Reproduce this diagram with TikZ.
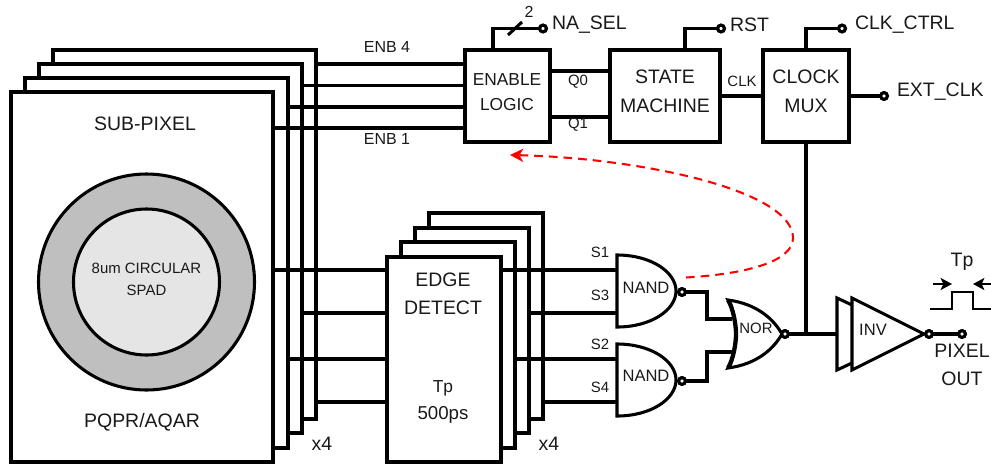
\documentclass[tikz,border=0pt]{standalone}
\usepackage{fontspec}
\setmainfont{Liberation Sans}
\usetikzlibrary{arrows.meta}
\tikzset{
  x=0.75pt,y=-0.75pt,
  boxs/.style={draw=black,fill=white,line width=2.3pt,rectangle,inner sep=0pt,outer sep=0pt},
  wire/.style={draw=black,line width=2.3pt,line cap=butt,line join=miter},
  pinc/.style={circle,draw=black,fill=white,line width=2.3pt,inner sep=0pt,outer sep=0pt,minimum size=5pt},
  lab/.style={inner sep=0pt,outer sep=0pt,text=black!90,font=\fontsize{14.6pt}{17pt}\selectfont},
  labm/.style={lab,font=\fontsize{13pt}{15pt}\selectfont},
  labs/.style={lab,font=\fontsize{11.2pt}{13pt}\selectfont},
  labn/.style={lab,font=\fontsize{12.4pt}{14pt}\selectfont},
  thinl/.style={draw=black,line width=1.1pt},
  arr/.style={draw=black,line width=1.6pt,-{Stealth[length=8.5pt,width=9pt,inset=2pt]}},
  redc/.style={draw=red,line width=1.55pt,dash pattern=on 6.5pt off 4.5pt,-{Stealth[length=10pt,width=10pt,inset=3pt]}},
}
\newcommand{\bx}[5]{\node[boxs,minimum width={(#4-#2)*0.75pt},minimum height={(#5-#3)*0.75pt}] (#1) at ({(#2+#4)/2},{(#3+#5)/2}) {};}
\begin{document}
\begin{tikzpicture}
\useasboundingbox (0,0) rectangle (991,464);
% sub-pixel stack
\bx{subd}{53}{50}{316}{419}
\bx{subc}{39}{64}{302}{433}
\bx{subb}{25}{78}{288}{448}
\bx{suba}{11}{92}{273}{462}
% spad
\node[circle,draw=black,fill=black!25,line width=2.3pt,minimum size=162pt,inner sep=0pt,outer sep=0pt] (spado) at (146.5,282) {};
\node[circle,draw=black,fill=black!10,line width=2.3pt,minimum size=109.5pt,inner sep=0pt,outer sep=0pt] (spadi) at (spado) {};
\node[labs] (spt1) at (146.5,268) {8um CIRCULAR};
\node[labs] (spt2) at (146.5,290) {SPAD};
\node[lab] (subt) at (145,124) {SUB-PIXEL};
\node[lab] (pqt) at (142,422) {PQPR/AQAR};
\node[lab] (x4a) at (322,444) {x4};
% logic boxes
\bx{en}{465}{50}{550}{142}
\bx{sm}{610}{50}{720}{142}
\bx{mux}{763}{50}{849}{142}
\node[labm] (ent1) at (507,80) {ENABLE};
\node[labm] (ent2) at (507,105) {LOGIC};
\node[lab] (smt1) at (665,77) {STATE};
\node[lab] (smt2) at (665,106) {MACHINE};
\node[lab] (mxt1) at (806,77) {CLOCK};
\node[lab] (mxt2) at (806,106) {MUX};
% enb wires
\coordinate (enl4) at (465,64);
\coordinate (enl3) at (465,85.5);
\coordinate (enl2) at (465,107);
\coordinate (enl1) at (465,128);
\draw[wire] (subd.east |- enl4) -- (enl4);
\draw[wire] (subc.east |- enl3) -- (enl3);
\draw[wire] (subb.east |- enl2) -- (enl2);
\draw[wire] (suba.east |- enl1) -- (enl1);
\node[labs,font=\fontsize{12pt}{14pt}\selectfont] (enb4) at (387,47) {ENB 4};
\node[labs,font=\fontsize{12pt}{14pt}\selectfont] (enb1) at (387,139) {ENB 1};
% q wires
\coordinate (q0) at (610,71);
\coordinate (q1) at (610,117);
\draw[wire] (en.east |- q0) -- (q0);
\draw[wire] (en.east |- q1) -- (q1);
\node[labs] (q0t) at (578,82) {Q0};
\node[labs] (q1t) at (578,125) {Q1};
\draw[wire] (sm.east) -- (mux.west);
\node[labs] (clkt) at (742,81) {CLK};
% top pins
\node[pinc] (pna) at (543,28.5) {};
\node[pinc] (prst) at (721,28.5) {};
\node[pinc] (pctl) at (842,28.5) {};
\node[pinc] (pext) at (884,96) {};
\coordinate (ent) at (493,50);
\coordinate (smtp) at (685,50);
\draw[wire] (ent) |- (pna);
\draw[wire] (smtp) |- (prst);
\draw[wire] (mux.north) |- (pctl);
\draw[wire] (mux.east) -- (pext);
\coordinate (sla) at (508,35);
\coordinate (slb) at (522,22);
\draw[wire] (sla) -- (slb);
\node[pinc] at (pna) {};
\node[pinc] at (prst) {};
\node[pinc] at (pctl) {};
\node[pinc] at (pext) {};
\node[labs,font=\fontsize{12pt}{14pt}\selectfont] (two) at (529,12) {2};
\node[lab,anchor=west] (nat) at (552,25) {NA\_SEL};
\node[lab,anchor=west] (rstt) at (730,25) {RST};
\node[lab,anchor=west] (ctlt) at (855,25) {CLK\_CTRL};
\node[lab,anchor=west] (extt) at (897,92) {EXT\_CLK};
% edge detect
\coordinate (edl1) at (387,270);
\coordinate (edl2) at (387,313);
\coordinate (edl3) at (387,359);
\coordinate (edl4) at (387,402);
\draw[wire] (suba.east |- edl1) -- (edl1);
\draw[wire] (subc.east |- edl2) -- (edl2);
\draw[wire] (subb.east |- edl3) -- (edl3);
\draw[wire] (subd.east |- edl4) -- (edl4);
\bx{edd}{429}{213}{543}{419}
\bx{edc}{415}{228}{529}{433}
\bx{edb}{401}{242}{515}{448}
\bx{eda}{387}{257}{501}{462}
\node[lab] (edt1) at (443,280) {EDGE};
\node[lab] (edt2) at (443,308) {DETECT};
\node[labm] (edt3) at (443,388) {Tp};
\node[lab,font=\fontsize{14pt}{16pt}\selectfont] (edt4) at (443,415) {500ps};
\node[lab] (x4b) at (549,444) {x4};
% gates
\coordinate (n1) at (617,291);
\coordinate (n2) at (617,380);
\foreach \g in {n1,n2}{
  \draw[wire,fill=white,shift={(\g)}] (0,-36) .. controls (34,-36) and (59,-19) .. (59,0) .. controls (59,19) and (34,36) .. (0,36) -- cycle;
}
\coordinate (i1) at (617,270);
\coordinate (i3) at (617,313);
\coordinate (i2) at (617,359);
\coordinate (i4) at (617,402);
\draw[wire] (eda.east |- i1) -- (i1);
\draw[wire] (edc.east |- i3) -- (i3);
\draw[wire] (edb.east |- i2) -- (i2);
\draw[wire] (edd.east |- i4) -- (i4);
\node[labn] (nt1) at (646,288) {NAND};
\node[labn] (nt2) at (646,376) {NAND};
\node[labs] (s1) at (600,252) {S1};
\node[labs] (s3) at (600,295) {S3};
\node[labs] (s2) at (600,344) {S2};
\node[labs] (s4) at (600,387) {S4};
% nor
\coordinate (nor) at (728,334);
\coordinate (nora) at (732,319);
\coordinate (norb) at (732,352);
\node[pinc] (pn1) at (682,292) {};
\node[pinc] (pn2) at (682,381) {};
\node[pinc] (pnor) at (785,334) {};
\coordinate (midw) at (707,292);
\draw[wire] (pn1) -- (midw) |- (nora);
\draw[wire] (pn2) -- (midw |- pn2) |- (norb);
\draw[wire,fill=white,shift={(nor)}] (0,-34) .. controls (30,-30) and (46,-14) .. (54,0) .. controls (46,14) and (30,30) .. (0,34) .. controls (5,26) and (8,10) .. (8,0) .. controls (8,-10) and (5,-26) .. (0,-34) -- cycle;
\draw[draw=black,line width=3.2pt,shift={(nor)}] (0,34) .. controls (5,26) and (8,10) .. (8,0) .. controls (8,-10) and (5,-26) .. (0,-34);
\node[labs] (nort) at (756,328) {NOR};
\node[pinc] at (pn1) {};
\node[pinc] at (pn2) {};
% inverter
\coordinate (invin) at (837,334);
\coordinate (invb) at (852,334);
\draw[wire,fill=white,shift={(invin)}] (0,-36) -- (30,-22) -- (30,22) -- (0,36) -- cycle;
\draw[wire,fill=white,shift={(invb)}] (0,-36) -- (72,0) -- (0,36) -- cycle;
\node[labn] (invt) at (873,330) {INV};
\draw[wire] (pnor) -- (invin);
\draw[wire] (mux.south) -- (mux.south |- pnor);
\node[pinc] at (pnor) {};
\node[pinc] (pinv) at (929,334) {};
\node[pinc] (pout) at (962,334) {};
\draw[wire] (pinv) -- (pout);
\node[pinc] at (pinv) {};
\node[pinc] at (pout) {};
\node[lab] (pot1) at (962,351) {PIXEL};
\node[lab] (pot2) at (962,379) {OUT};
% pulse
\node[lab] (tpt) at (962,262) {Tp};
\coordinate (pa) at (930,309);
\coordinate (pb) at (952,292);
\coordinate (pc) at (973,292);
\coordinate (pd) at (991,309);
\draw[thinl] (pa) -| (pb) -- (pc) |- (pd);
\coordinate (aa) at (933,284);
\coordinate (ab) at (952,284);
\coordinate (ac) at (991,284);
\coordinate (ad) at (973,284);
\draw[arr] (aa) -- (ab);
\draw[arr] (ac) -- (ad);
% feedback
\coordinate (ra) at (686,277.5);
\coordinate (rb) at (793,238);
\coordinate (rc) at (510,155);
\draw[redc] (ra) .. controls (745,274) and (793,262) .. (rb) .. controls (793,190) and (640,158) .. (rc);
\end{tikzpicture}
\end{document}
